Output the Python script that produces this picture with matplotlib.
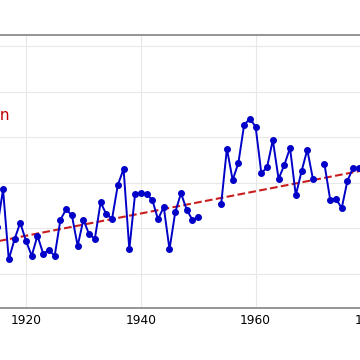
import numpy as np
import matplotlib
matplotlib.use("Agg")
import matplotlib.pyplot as plt

years = list(range(1914, 1980))
values = [
    -0.400, -0.394, -0.229, -0.536, -0.448, -0.375, -0.455, -0.520, -0.432, -0.511,  # 1914-1923
    -0.495, -0.520, -0.362, -0.316, -0.343, -0.477, -0.362, -0.426, -0.445, -0.286,  # 1924-1933
    -0.338, -0.357, -0.210, -0.139, -0.492, -0.250, -0.246, -0.250, -0.275, -0.360,  # 1934-1943
    -0.306, -0.492, -0.329, -0.246, -0.318, -0.363, -0.350, np.nan, np.nan, np.nan,  # 1944-1953
    -0.294, -0.050, -0.188, -0.113, 0.054, 0.081, 0.046, -0.158, -0.132, -0.012,     # 1954-1963
    -0.183, -0.122, -0.047, -0.255, -0.150, -0.055, -0.185, np.nan, -0.119, -0.275,  # 1964-1973
    -0.270, -0.311, -0.191, -0.134, -0.134, -0.130,                                  # 1974-1979
]
trend_years = [1910, 1985]
trend_values = [-0.481, -0.115]
x_ticks = [1920, 1940, 1960, 1980]
y_ticks = [-0.6, -0.4, -0.2, 0.0, 0.2, 0.4]
trend_label = "Linear regression"

fig = plt.figure(figsize=(3.6, 3.6), dpi=100)
ax = fig.add_axes([-0.2, 1 - 308 / 360, 1.4, (308 - 35) / 360])

ax.plot(trend_years, trend_values, linestyle="--", color="#c81e1e", lw=1.5, zorder=2)
ax.plot(years, values, color="#0000c8", lw=1.4, marker="o", markersize=4, zorder=3)

ax.set_xticks(x_ticks)
ax.set_yticks(y_ticks)
ax.set_yticklabels([])
ax.set_xlim(1902.93, 1990.73)
ax.set_ylim(-0.749, 0.448)
ax.grid(True, color="#e8e8e8", lw=0.8)
ax.set_axisbelow(True)
for s in ["left", "right"]:
    ax.spines[s].set_visible(False)
for s in ["top", "bottom"]:
    ax.spines[s].set_color("#8c8c8c")
    ax.spines[s].set_linewidth(1.3)
ax.tick_params(axis="x", length=0, pad=4, labelsize=8.8, colors="black")
ax.tick_params(axis="y", length=0)

fig.text(9.5 / 360, 1 - 120 / 360, trend_label, ha="right", va="baseline",
         color="#c00000", fontsize=11)

fig.savefig("out.png", dpi=100)
